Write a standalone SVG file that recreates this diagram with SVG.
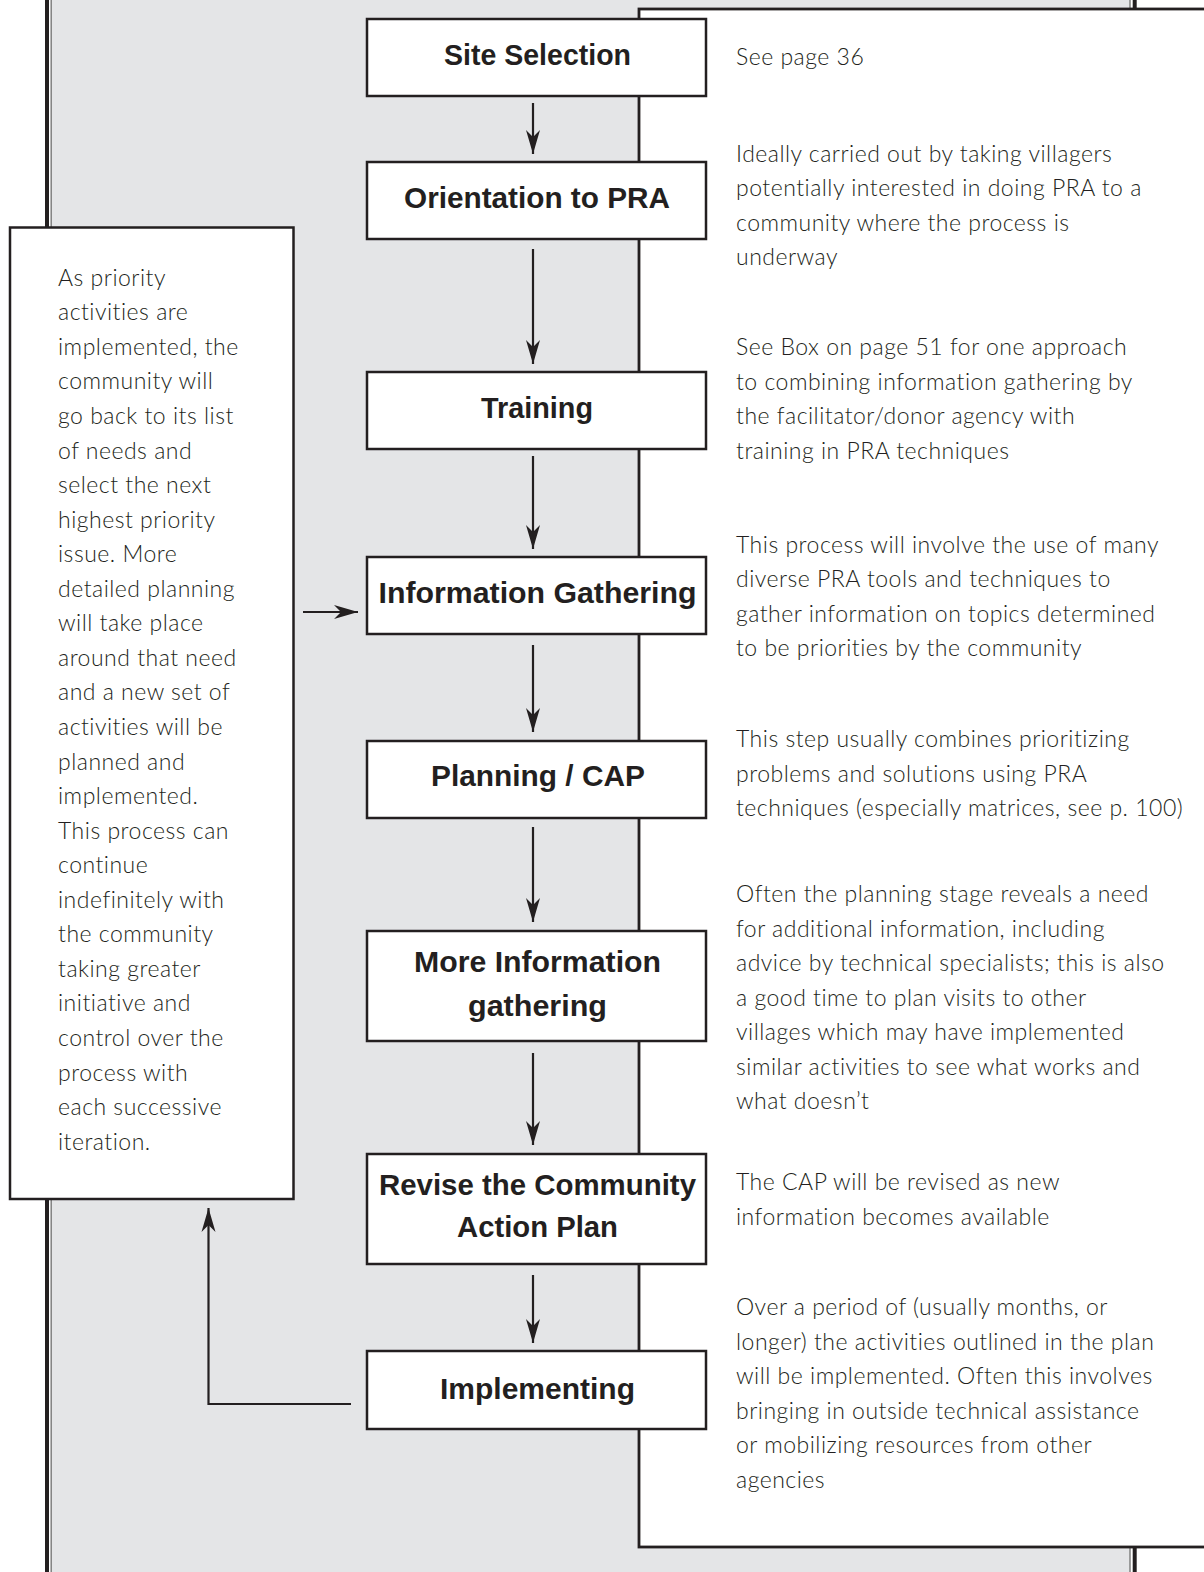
<svg xmlns="http://www.w3.org/2000/svg" width="1204" height="1572" viewBox="0 0 1204 1572">
<defs>
<style>
.box{fill:#fff;stroke:#231f20;stroke-width:2.5}
.title{font-family:"Liberation Sans",Arial,sans-serif;font-weight:700;font-size:30px;fill:#231f20;text-anchor:middle}
.body{font-family:Lato,"Open Sans","Liberation Sans",sans-serif;font-weight:300;font-size:23px;letter-spacing:0.5px;fill:#231f20}
.conn{fill:none;stroke:#231f20;stroke-width:2.2}
</style>
<marker id="ah" markerUnits="userSpaceOnUse" markerWidth="30" markerHeight="20" viewBox="-25 -10 30 20" refX="0" refY="0" orient="auto">
<path d="M0,0 L-24,-7 L-17,0 L-24,7 Z" fill="#231f20"/>
</marker>
</defs>
<rect x="0" y="0" width="1204" height="1572" fill="#fff"/>
<rect x="51" y="0" width="1079" height="1572" fill="#e4e5e7"/>
<line x1="47" y1="0" x2="47" y2="1572" stroke="#231f20" stroke-width="4"/>
<line x1="51.2" y1="0" x2="51.2" y2="1572" stroke="#808080" stroke-width="1.5"/>
<line x1="1130" y1="0" x2="1130" y2="1572" stroke="#808080" stroke-width="1.5"/>
<line x1="1134.7" y1="0" x2="1134.7" y2="1572" stroke="#231f20" stroke-width="4"/>

<g id="notes-panel">
<rect x="639" y="9" width="600" height="1538" fill="#fff" stroke="#231f20" stroke-width="2.8"/>
<text class="body" x="736" y="65">See page 36</text>
<text class="body" x="736" y="161.5">Ideally carried out by taking villagers<tspan x="736" dy="34.5">potentially interested in doing PRA to a</tspan><tspan x="736" dy="34.5">community where the process is</tspan><tspan x="736" dy="34.5">underway</tspan></text>
<text class="body" x="736" y="355">See Box on page 51 for one approach<tspan x="736" dy="34.5">to combining information gathering by</tspan><tspan x="736" dy="34.5">the facilitator/donor agency with</tspan><tspan x="736" dy="34.5">training in PRA techniques</tspan></text>
<text class="body" x="736" y="552.5">This process will involve the use of many<tspan x="736" dy="34.5">diverse PRA tools and techniques to</tspan><tspan x="736" dy="34.5">gather information on topics determined</tspan><tspan x="736" dy="34.5">to be priorities by the community</tspan></text>
<text class="body" x="736" y="747">This step usually combines prioritizing<tspan x="736" dy="34.5">problems and solutions using PRA</tspan><tspan x="736" dy="34.5">techniques (especially matrices, see p. 100)</tspan></text>
<text class="body" x="736" y="902">Often the planning stage reveals a need<tspan x="736" dy="34.5">for additional information, including</tspan><tspan x="736" dy="34.5">advice by technical specialists; this is also</tspan><tspan x="736" dy="34.5">a good time to plan visits to other</tspan><tspan x="736" dy="34.5">villages which may have implemented</tspan><tspan x="736" dy="34.5">similar activities to see what works and</tspan><tspan x="736" dy="34.5">what doesn’t</tspan></text>
<text class="body" x="736" y="1190">The CAP will be revised as new<tspan x="736" dy="34.5">information becomes available</tspan></text>
<text class="body" x="736" y="1315">Over a period of (usually months, or<tspan x="736" dy="34.5">longer) the activities outlined in the plan</tspan><tspan x="736" dy="34.5">will be implemented.  Often this involves</tspan><tspan x="736" dy="34.5">bringing in outside technical assistance</tspan><tspan x="736" dy="34.5">or mobilizing resources from other</tspan><tspan x="736" dy="34.5">agencies</tspan></text>
</g>

<g id="iteration-note">
<rect class="box" x="10" y="227.5" width="283.5" height="971.5"/>
<text class="body" x="58" y="285.7">As priority<tspan x="58" dy="34.56">activities are</tspan><tspan x="58" dy="34.56">implemented, the</tspan><tspan x="58" dy="34.56">community will</tspan><tspan x="58" dy="34.56">go back to its list</tspan><tspan x="58" dy="34.56">of needs and</tspan><tspan x="58" dy="34.56">select the next</tspan><tspan x="58" dy="34.56">highest priority</tspan><tspan x="58" dy="34.56">issue. More</tspan><tspan x="58" dy="34.56">detailed planning</tspan><tspan x="58" dy="34.56">will take place</tspan><tspan x="58" dy="34.56">around that need</tspan><tspan x="58" dy="34.56">and a new set of</tspan><tspan x="58" dy="34.56">activities will be</tspan><tspan x="58" dy="34.56">planned and</tspan><tspan x="58" dy="34.56">implemented.</tspan><tspan x="58" dy="34.56">This process can</tspan><tspan x="58" dy="34.56">continue</tspan><tspan x="58" dy="34.56">indefinitely with</tspan><tspan x="58" dy="34.56">the community</tspan><tspan x="58" dy="34.56">taking greater</tspan><tspan x="58" dy="34.56">initiative and</tspan><tspan x="58" dy="34.56">control over the</tspan><tspan x="58" dy="34.56">process with</tspan><tspan x="58" dy="34.56">each successive</tspan><tspan x="58" dy="34.56">iteration.</tspan></text>
</g>

<g id="site-selection"><rect class="box" x="367" y="19" width="339" height="77"/><text class="title" x="537.5" y="65" textLength="187" lengthAdjust="spacingAndGlyphs">Site Selection</text></g>
<g id="orientation"><rect class="box" x="367" y="162" width="339" height="77"/><text class="title" x="537" y="207.5" textLength="266" lengthAdjust="spacingAndGlyphs">Orientation to PRA</text></g>
<g id="training"><rect class="box" x="367" y="372" width="339" height="77"/><text class="title" x="537" y="418" textLength="112" lengthAdjust="spacingAndGlyphs">Training</text></g>
<g id="information-gathering"><rect class="box" x="367" y="557" width="339" height="77"/><text class="title" x="537.5" y="602.5" textLength="318" lengthAdjust="spacingAndGlyphs">Information Gathering</text></g>
<g id="planning-cap"><rect class="box" x="367" y="741" width="339" height="77"/><text class="title" x="538" y="786" textLength="214" lengthAdjust="spacingAndGlyphs">Planning / CAP</text></g>
<g id="more-information"><rect class="box" x="367" y="931" width="339" height="110"/><text class="title" x="537.5" y="972" textLength="247" lengthAdjust="spacingAndGlyphs">More Information</text><text class="title" x="537.5" y="1015.5" textLength="139" lengthAdjust="spacingAndGlyphs">gathering</text></g>
<g id="revise-cap"><rect class="box" x="367" y="1154" width="339" height="110"/><text class="title" x="537.5" y="1195" textLength="317" lengthAdjust="spacingAndGlyphs">Revise the Community</text><text class="title" x="537.5" y="1237" textLength="161" lengthAdjust="spacingAndGlyphs">Action Plan</text></g>
<g id="implementing"><rect class="box" x="367" y="1351" width="339" height="78"/><text class="title" x="537.5" y="1398.5" textLength="195" lengthAdjust="spacingAndGlyphs">Implementing</text></g>

<g id="connectors">
<line class="conn" x1="533" y1="103" x2="533" y2="154" marker-end="url(#ah)"/>
<line class="conn" x1="533" y1="249" x2="533" y2="364" marker-end="url(#ah)"/>
<line class="conn" x1="533" y1="456" x2="533" y2="549" marker-end="url(#ah)"/>
<line class="conn" x1="533" y1="645" x2="533" y2="732" marker-end="url(#ah)"/>
<line class="conn" x1="533" y1="827" x2="533" y2="922" marker-end="url(#ah)"/>
<line class="conn" x1="533" y1="1053" x2="533" y2="1145" marker-end="url(#ah)"/>
<line class="conn" x1="533" y1="1275" x2="533" y2="1343" marker-end="url(#ah)"/>
<line class="conn" x1="303" y1="612" x2="358" y2="612" marker-end="url(#ah)"/>
<polyline class="conn" points="351,1404 208.5,1404 208.5,1208" marker-end="url(#ah)"/>
</g>
</svg>
